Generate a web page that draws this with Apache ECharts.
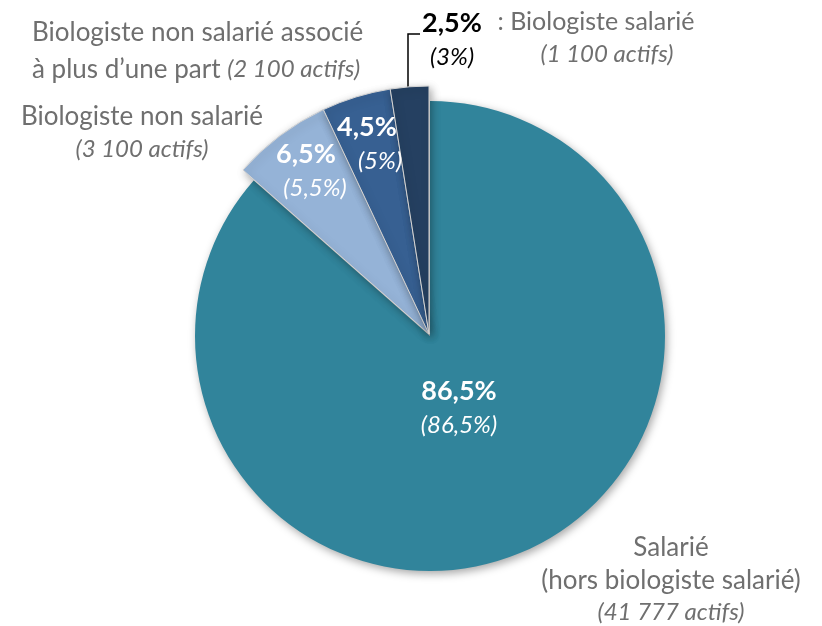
<!DOCTYPE html>
<html>
<head>
<meta charset="utf-8">
<script src="https://cdn.jsdelivr.net/npm/echarts@6/dist/echarts.min.js"></script>
<style>
  html, body { margin: 0; padding: 0; background: #fff; }
  #chart { width: 822px; height: 626px; }
</style>
</head>
<body>
<div id="chart"></div>
<script>
'use strict';

/* ── Data ── */
const categories     = ['Salarié', 'Biologiste non salarié', 'Biologiste non salarié associé à plus d’une part', 'Biologiste salarié'];
const shares         = [86.5, 6.5, 4.5, 2.5];
const previousShares = [86.5, 5.5, 5, 3];
const actifs         = ['41 777', '3 100', '2 100', '1 100'];

/* ── Styles ── */
const colors   = ['#31849B', '#95B3D7', '#376092', '#254061'];
const FONT     = "Lato, 'Open Sans', sans-serif";
const GREY     = '#6f6f6f';
const labelPos = [[459, 408], [306, 171], [367, 144], [452, 40]];
const italicShift = [0, 18, 26, 0];

function pct(v) { return String(v).replace('.', ',') + '%'; }

function sliceData(keep) {
  return shares.map((v, i) => {
    const on = keep(i);
    return {
      name: categories[i],
      value: v,
      itemStyle: on ? { color: colors[i] } : { color: 'rgba(0,0,0,0)', shadowColor: 'rgba(0,0,0,0)', borderWidth: 0 },
      label: { show: on, color: i === 3 ? '#000' : '#fff' }
    };
  });
}

const richLabel = {
  a:  { fontFamily: FONT, fontWeight: 'bold', fontSize: 27, lineHeight: 34 },
  b0: { fontFamily: FONT, fontStyle: 'italic', fontSize: 24, lineHeight: 34 },
  b1: { fontFamily: FONT, fontStyle: 'italic', fontSize: 24, lineHeight: 34, padding: [0, 0, 0, italicShift[1]] },
  b2: { fontFamily: FONT, fontStyle: 'italic', fontSize: 24, lineHeight: 34, padding: [0, 0, 0, italicShift[2]] }
};

function labelFormatter(p) {
  const i = p.dataIndex;
  const key = italicShift[i] ? 'b' + i : 'b0';
  return '{a|' + pct(shares[i]) + '}\n{' + key + '|(' + pct(previousShares[i]) + ')}';
}

function placeLabel(p) {
  const pos = labelPos[p.dataIndex];
  return { x: pos[0], y: pos[1], align: 'center', verticalAlign: 'middle' };
}

const shadow = { shadowBlur: 8, shadowColor: 'rgba(0,0,0,0.35)', shadowOffsetX: 2, shadowOffsetY: 3 };

const chart = echarts.init(document.getElementById('chart'), null, { renderer: 'canvas' });

const txtN = size => ({ fontFamily: FONT, fontSize: size, fill: GREY, align: 'center' });
const txtI = size => ({ fontFamily: FONT, fontSize: size, fontStyle: 'italic', fill: GREY, align: 'center' });

chart.setOption({
  backgroundColor: '#fff',
  animation: false,
  series: [
    {
      type: 'pie',
      center: [430, 336],
      radius: [0, 235],
      startAngle: 90,
      clockwise: true,
      avoidLabelOverlap: false,
      silent: true,
      itemStyle: { ...shadow },
      label: { position: 'inside', formatter: labelFormatter, rich: richLabel },
      labelLine: { show: false },
      labelLayout: placeLabel,
      data: sliceData(i => i === 0)
    },
    {
      type: 'pie',
      center: [429, 334],
      radius: [0, 248],
      startAngle: 90,
      clockwise: true,
      avoidLabelOverlap: false,
      silent: true,
      itemStyle: { ...shadow, borderColor: '#d4d4d4', borderWidth: 1 },
      label: { position: 'inside', formatter: labelFormatter, rich: richLabel },
      labelLine: { show: false },
      labelLayout: placeLabel,
      data: sliceData(i => i !== 0)
    }
  ],
  graphic: [
    {
      type: 'polyline', silent: true,
      shape: { points: [[408, 88], [408, 34], [420, 34]] },
      style: { stroke: '#000', lineWidth: 1.5, fill: null }
    },
    {
      type: 'text', x: 32, y: 14,
      style: {
        text: '{n|Biologiste non salarié associé}\n{n|à plus d’une part }{i|(' + actifs[2] + ' actifs)}',
        rich: {
          n: { ...txtN(26), align: 'left', lineHeight: 37 },
          i: { ...txtI(24), align: 'left', lineHeight: 37 }
        }
      }
    },
    {
      type: 'text', x: 142, y: 100,
      style: {
        text: '{n|' + categories[1] + '}\n{i|(' + actifs[1] + ' actifs)}',
        align: 'center',
        rich: {
          n: { ...txtN(26), lineHeight: 33 },
          i: { ...txtI(24), lineHeight: 33 }
        }
      }
    },
    {
      type: 'text', x: 596, y: 5,
      style: {
        text: '{n|: ' + categories[3] + '}\n{i|(' + actifs[3] + ' actifs)}',
        align: 'center',
        rich: {
          n: { ...txtN(25), lineHeight: 33 },
          i: { ...txtI(24), lineHeight: 33, padding: [0, 0, 0, 22] }
        }
      }
    },
    {
      type: 'text', x: 671, y: 531,
      style: {
        text: '{n|' + categories[0] + '}\n{n|(hors biologiste salarié)}\n{i|(' + actifs[0] + ' actifs)}',
        align: 'center',
        rich: {
          n: { ...txtN(26), lineHeight: 33 },
          i: { ...txtI(24), lineHeight: 31 }
        }
      }
    }
  ]
});

window.addEventListener('resize', () => chart.resize());
</script>
</body>
</html>
